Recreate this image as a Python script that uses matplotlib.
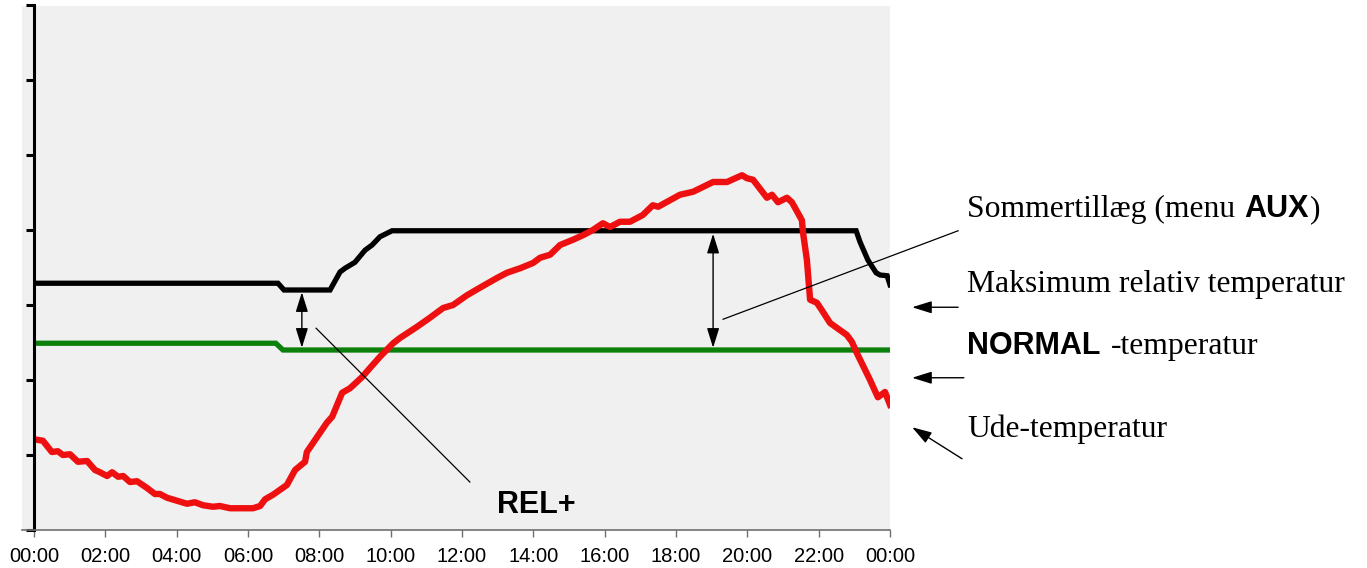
import matplotlib.pyplot as plt
from matplotlib.patches import Rectangle
from matplotlib.lines import Line2D

# tid i timer (0-24), temperatur i vilkaarlige enheder (akse 0-7)
ude_t = [0.00, 0.25, 0.50, 0.67, 0.81, 1.01, 1.23, 1.49, 1.71, 1.85, 2.05, 2.19,
         2.36, 2.50, 2.69, 2.89, 3.17, 3.39, 3.53, 3.73, 4.01, 4.29, 4.51, 4.74,
         5.02, 5.21, 5.50, 6.14, 6.34, 6.48, 6.70, 7.09, 7.32, 7.60, 7.65, 8.21,
         8.36, 8.64, 8.86, 9.20, 9.42, 9.70, 10.07, 10.26, 10.74, 11.10, 11.47,
         11.75, 12.14, 12.50, 12.98, 13.26, 13.63, 13.99, 14.19, 14.47, 14.75,
         15.11, 15.39, 15.67, 15.95, 16.15, 16.43, 16.71, 17.07, 17.35, 17.50,
         18.11, 18.48, 19.04, 19.43, 19.85, 19.99, 20.16, 20.55, 20.69, 20.86,
         21.11, 21.25, 21.53, 21.56, 21.67, 21.76, 21.95, 22.09, 22.32, 22.79,
         22.93, 23.07, 23.44, 23.66, 23.86, 24.00]
ude_v = [1.21, 1.19, 1.04, 1.05, 1.00, 1.01, 0.91, 0.92, 0.80, 0.77, 0.72, 0.77,
         0.71, 0.72, 0.64, 0.65, 0.56, 0.48, 0.48, 0.43, 0.39, 0.35, 0.37, 0.33,
         0.31, 0.32, 0.29, 0.29, 0.32, 0.41, 0.47, 0.60, 0.80, 0.91, 1.04, 1.43,
         1.51, 1.83, 1.89, 2.04, 2.16, 2.31, 2.49, 2.56, 2.71, 2.83, 2.96,
         3.00, 3.13, 3.23, 3.36, 3.43, 3.49, 3.56, 3.63, 3.67, 3.80,
         3.87, 3.93, 4.00, 4.09, 4.04, 4.11, 4.11, 4.20, 4.33, 4.31,
         4.47, 4.51, 4.64, 4.64, 4.73, 4.69, 4.67, 4.43, 4.47, 4.37,
         4.43, 4.37, 4.13, 3.97, 3.60, 3.07, 3.03, 2.93, 2.76, 2.60,
         2.51, 2.36, 2.00, 1.77, 1.84, 1.67]

maks_t = [0.00, 6.84, 7.01, 8.30, 8.58, 8.72, 9.00, 9.28, 9.48, 9.70, 10.04,
          23.05, 23.16, 23.38, 23.61, 23.72, 23.92, 24.00]
maks_v = [3.29, 3.29, 3.20, 3.20, 3.44, 3.49, 3.57, 3.73, 3.80, 3.91, 3.99,
          3.99, 3.84, 3.60, 3.43, 3.40, 3.39, 3.27]

normal_t = [0.00, 6.78, 6.98, 24.00]
normal_v = [2.49, 2.49, 2.40, 2.40]

tick_hours = list(range(0, 25, 2))
tick_labels = ['%02d:00' % (h % 24) for h in tick_hours]

W, H = 1367, 568
fig = plt.figure(figsize=(W / 100, H / 100), dpi=100)
fx = lambda px: px / W
fy = lambda py: 1 - py / H

sans = 'Liberation Sans'
serif = 'Liberation Serif'

# graa baggrund lidt bredere end akserne
fig.patches.append(Rectangle((fx(22), fy(530)), fx(890) - fx(22), fy(6) - fy(530),
                             transform=fig.transFigure, facecolor='#f0f0f0',
                             edgecolor='none', zorder=-1))
fig.add_artist(Line2D([fx(22), fx(890)], [fy(530), fy(530)], color='#6f6f6f', lw=1.2))

ax = fig.add_axes([fx(34), fy(530), fx(890) - fx(34), fy(5) - fy(530)])
ax.patch.set_visible(False)
for s in ['top', 'right', 'bottom']:
    ax.spines[s].set_visible(False)
ax.spines['left'].set_linewidth(2.2)
ax.set_xlim(0, 24)
ax.set_ylim(0, 7)
ax.set_xticks(tick_hours)
ax.set_xticklabels(tick_labels, fontfamily=sans, fontsize=14.5, color='black')
ax.set_yticks(range(8))
ax.set_yticklabels([])
ax.tick_params(axis='x', length=5, width=1, color='#6f6f6f', pad=7)
ax.tick_params(axis='y', length=6, width=2.2, color='black')

ax.plot(maks_t, maks_v, color='black', lw=3.8, solid_joinstyle='miter')
ax.plot(normal_t, normal_v, color='#0b800b', lw=3.8, solid_joinstyle='miter')
ax.plot(ude_t, ude_v, color='#ee1010', lw=4.6, solid_joinstyle='round')

# dobbeltpile mellem niveauerne
arr = dict(arrowstyle='<|-|>,head_length=0.8,head_width=0.25', color='black', lw=1,
           shrinkA=0, shrinkB=0, mutation_scale=15)
ax.annotate('', xy=(7.51, maks_v[2] - 0.03), xytext=(7.51, normal_v[-1] + 0.03), arrowprops=arr)
ax.annotate('', xy=(19.04, maks_v[11] - 0.04), xytext=(19.04, normal_v[-1] + 0.03), arrowprops=arr)

# henvisningslinjer
ax.plot([7.91, 12.22], [2.69, 0.64], color='black', lw=0.9)
ax.plot([19.32, 25.91], [2.81, 3.99], color='black', lw=0.9, clip_on=False)
ax.text(14.07, 0.227, 'REL+', fontfamily=sans, fontweight='bold', fontsize=22,
        ha='center', va='baseline')

pil = dict(arrowstyle='-|>,head_length=0.8,head_width=0.25', color='black', lw=1,
           shrinkA=0, shrinkB=0, mutation_scale=15)
ax.annotate('', xy=(24.62, 2.97), xytext=(25.91, 2.97), arrowprops=pil, annotation_clip=False)
ax.annotate('', xy=(24.62, 2.03), xytext=(26.07, 2.03), arrowprops=pil, annotation_clip=False)
ax.annotate('', xy=(24.62, 1.37), xytext=(26.02, 0.95), arrowprops=pil, annotation_clip=False)

# tekster til hoejre, blandet serif/fed sans
renderer = fig.canvas.get_renderer()


def row(parts, x_px, base_px):
    x = x_px
    for txt, bold, gap in parts:
        x += gap
        t = fig.text(fx(x), fy(base_px), txt, va='baseline', ha='left',
                     fontfamily=sans if bold else serif,
                     fontweight='bold' if bold else 'normal', fontsize=22 if bold else 22.8)
        bb = t.get_window_extent(renderer=renderer)
        x = bb.x1


row([('Sommertillæg (menu', False, 0), ('AUX', True, 9), (')', False, 1)], 967, 217)
row([('Maksimum relativ temperatur', False, 0)], 967, 292)
row([('NORMAL', True, 0), ('-temperatur', False, 10)], 967, 354)
row([('Ude-temperatur', False, 0)], 967, 437)

fig.savefig('out.png', dpi=100)
